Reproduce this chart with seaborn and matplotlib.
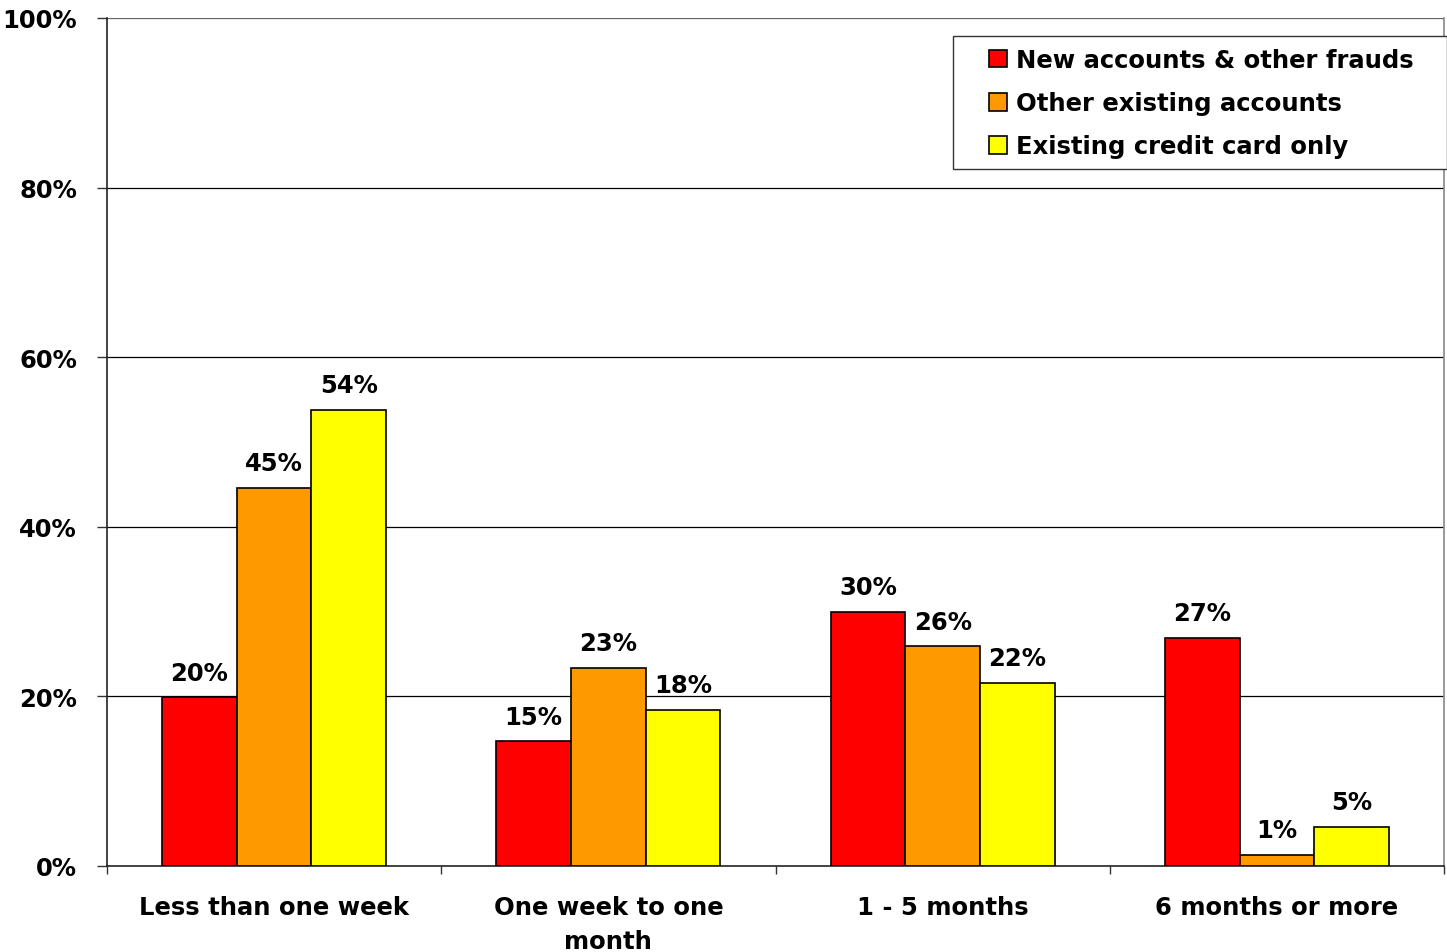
import matplotlib
matplotlib.use("Agg")
import matplotlib.pyplot as plt
import seaborn as sns
import pandas as pd
from matplotlib.ticker import FixedLocator
from matplotlib.patches import Rectangle

categories = ["Less than one week", "One week to one\nmonth", "1 - 5 months", "6 months or more"]
series = ["New accounts & other frauds", "Other existing accounts", "Existing credit card only"]
new_accounts = [19.9, 14.7, 30.0, 26.9]
other_existing = [44.6, 23.4, 25.9, 1.3]
credit_card = [53.8, 18.4, 21.6, 4.6]
colors = ["#FF0000", "#FF9900", "#FFFF00"]
yticks = [0, 20, 40, 60, 80, 100]

sns.set_style("white")
plt.rcParams["font.family"] = ["DejaVu Sans"]
plt.rcParams["font.weight"] = "bold"
plt.rcParams["text.color"] = "black"
plt.rcParams["xtick.color"] = "black"
plt.rcParams["ytick.color"] = "black"
FS = 17.5

W, H = 1447, 953

rows = []
for s, vals in zip(series, [new_accounts, other_existing, credit_card]):
    for c, v in zip(categories, vals):
        rows.append({"category": c, "series": s, "value": v})
df = pd.DataFrame(rows)

fig = plt.figure(figsize=(W / 100, H / 100), dpi=100)
ax = fig.add_axes([107 / W, (H - 867) / H, (1444 - 107) / W, (867 - 19) / H])

sns.barplot(data=df, x="category", y="value", hue="series", order=categories,
            hue_order=series, palette=colors, width=0.67, gap=0,
            edgecolor="black", linewidth=1.2, saturation=1, ax=ax, legend=True,
            errorbar=None, zorder=3)

for cont in ax.containers:
    labels = [f"{round(b.get_height()):d}%" for b in cont]
    ax.bar_label(cont, labels=labels, padding=9, fontsize=FS, fontweight="bold", color="black")

ax.set_ylim(0, 100)
ax.set_xlim(-0.5, 3.5)
ax.set_yticks(yticks)
ax.set_yticklabels([f"{t}%" for t in yticks], fontsize=FS, fontweight="bold")
ax.tick_params(axis="y", length=7.5, width=1, pad=14, direction="out", left=True, color="#333333")
ax.set_xticks(range(len(categories)))
ax.set_xticklabels(categories, fontsize=FS, fontweight="bold", linespacing=1.5)
ax.tick_params(axis="x", which="major", length=0, pad=21)
ax.xaxis.set_minor_locator(FixedLocator([-0.5, 0.5, 1.5, 2.5, 3.5]))
ax.tick_params(axis="x", which="minor", length=6, width=1, direction="out", bottom=True, color="#333333")
ax.set_xlabel("")
ax.set_ylabel("")

for t in yticks[1:]:
    ax.axhline(t, color="#000000" if t < 100 else "#666666", linewidth=0.9, zorder=1)

for side in ["left", "bottom"]:
    ax.spines[side].set_color("#222222")
    ax.spines[side].set_linewidth(1.2)
ax.spines["right"].set_color("#888888")
ax.spines["right"].set_linewidth(1.2)
ax.spines["top"].set_visible(False)

# legend frame box
box = Rectangle((953 / W, (H - 170) / H), (1446.5 - 953) / W, (170 - 37) / H,
                transform=fig.transFigure, facecolor="white",
                edgecolor="#333333", linewidth=1.0, zorder=4, clip_on=False)
ax.add_artist(box)

handles, labs = ax.get_legend_handles_labels()
leg = ax.legend(handles, labs, loc="upper left", bbox_to_anchor=(989 / W, (H - 49) / H),
                bbox_transform=fig.transFigure, borderaxespad=0, borderpad=0,
                frameon=False, prop={"size": FS, "weight": "bold"},
                handlelength=0.74, handleheight=0.74, handletextpad=0.37,
                labelspacing=0.79, title=None)
leg.set_zorder(6)
for h in leg.legend_handles:
    h.set_edgecolor("black")
    h.set_linewidth(1.2)

fig.savefig("out.png", dpi=100)
